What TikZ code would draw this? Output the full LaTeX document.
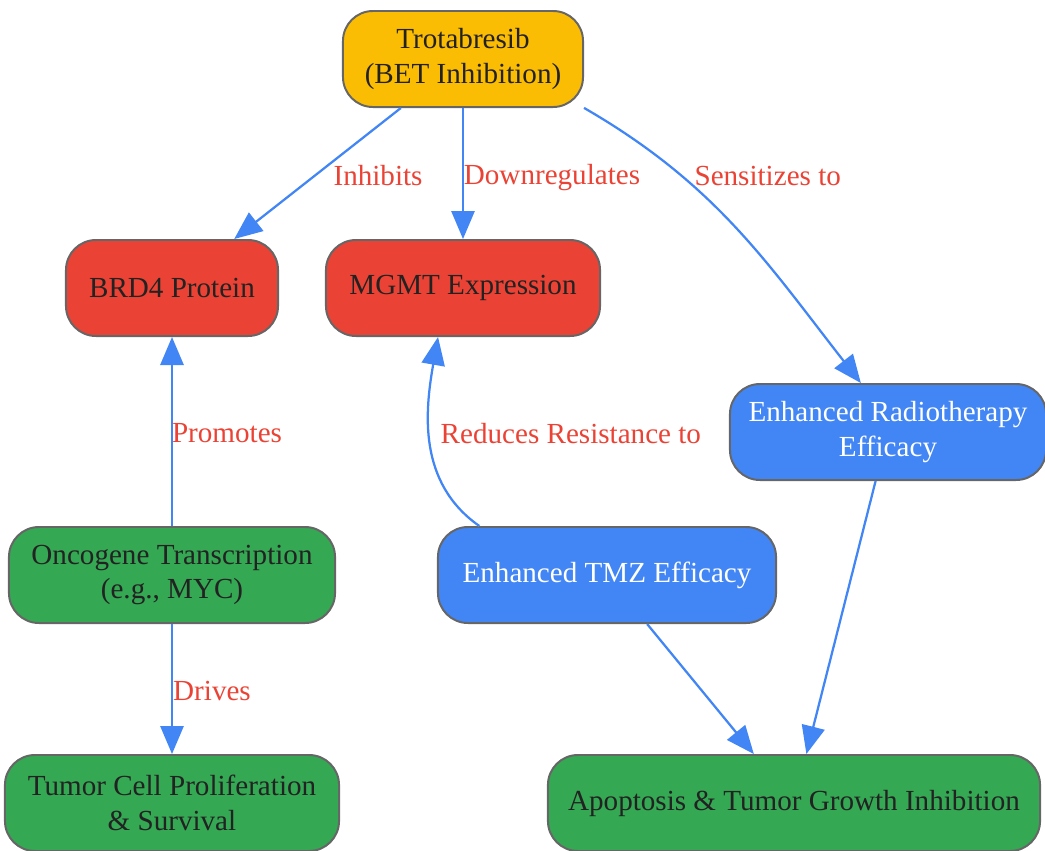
\documentclass[tikz,border=0pt]{standalone}
\usepackage{fontspec}
\setmainfont{Liberation Serif}
\usetikzlibrary{arrows.meta}

\definecolor{gyellow}{HTML}{FBBC04}
\definecolor{gred}{HTML}{EA4335}
\definecolor{gblue}{HTML}{4285F4}
\definecolor{ggreen}{HTML}{34A853}
\definecolor{gborder}{HTML}{666666}
\definecolor{gtext}{HTML}{222222}

\begin{document}
\begin{tikzpicture}[x=0.025cm,y=-0.025cm,
  box/.style={draw=gborder,line width=1.4pt,rounded corners=0.75cm,minimum height=2.4cm,
    align=center,text=gtext,font=\fontsize{20.7}{24.8}\selectfont},
  bluebox/.style={box,fill=gblue,text=white},
  edge/.style={draw=gblue,line width=1.6pt,-{Triangle[length=0.7cm,width=0.58cm]}},
  lbl/.style={text=gred,font=\fontsize{20.7}{24.8}\selectfont,inner sep=0}]

\useasboundingbox (0,0) rectangle (1045,850);

% nodes
\node[box,fill=gyellow,minimum width=6cm] (trot) at (463,59) {Trotabresib\\(BET Inhibition)};
\node[box,fill=gred,minimum width=5.3cm] (brd4) at (172,288) {BRD4 Protein};
\node[box,fill=gred,minimum width=6.85cm] (mgmt) at (463,288) {MGMT Expression};
\node[bluebox,minimum width=7.9cm] (radio) at (888,432) {Enhanced Radiotherapy\\Efficacy};
\node[box,fill=ggreen,minimum width=8.15cm] (onco) at (172,575) {Oncogene Transcription\\(e.g., MYC)};
\node[bluebox,minimum width=8.45cm] (tmz) at (607,575) {Enhanced TMZ Efficacy};
\node[box,fill=ggreen,minimum width=8.35cm] (tumor) at (172,803) {Tumor Cell Proliferation\\\& Survival};
\node[box,fill=ggreen,minimum width=12.3cm] (apop) at (794,803) {Apoptosis \& Tumor Growth Inhibition};

% edges
\draw[edge] (trot) -- node[lbl,pos=0.515,xshift=1.575cm] {Inhibits} (brd4);
\draw[edge] (trot) -- node[lbl,pos=0.53,xshift=2.225cm] {Downregulates} (mgmt);
\draw[edge] (trot.-22) to[out=-30,in=128] node[lbl,pos=0.29,anchor=west,xshift=0.3cm] {Sensitizes to} (radio.119);
\draw[edge] (onco) -- node[lbl,pos=0.49,xshift=1.375cm] {Promotes} (brd4);
\draw[edge] (onco) -- node[lbl,pos=0.515,xshift=1cm] {Drives} (tumor);
\draw[edge] (tmz.159) to[out=145,in=-100] node[lbl,pos=0.55,anchor=west,xshift=0.25cm] {Reduces Resistance to} (mgmt.-117);
\draw[edge] (tmz) -- (apop);
\draw[edge] (radio) -- (apop);
\end{tikzpicture}
\end{document}
